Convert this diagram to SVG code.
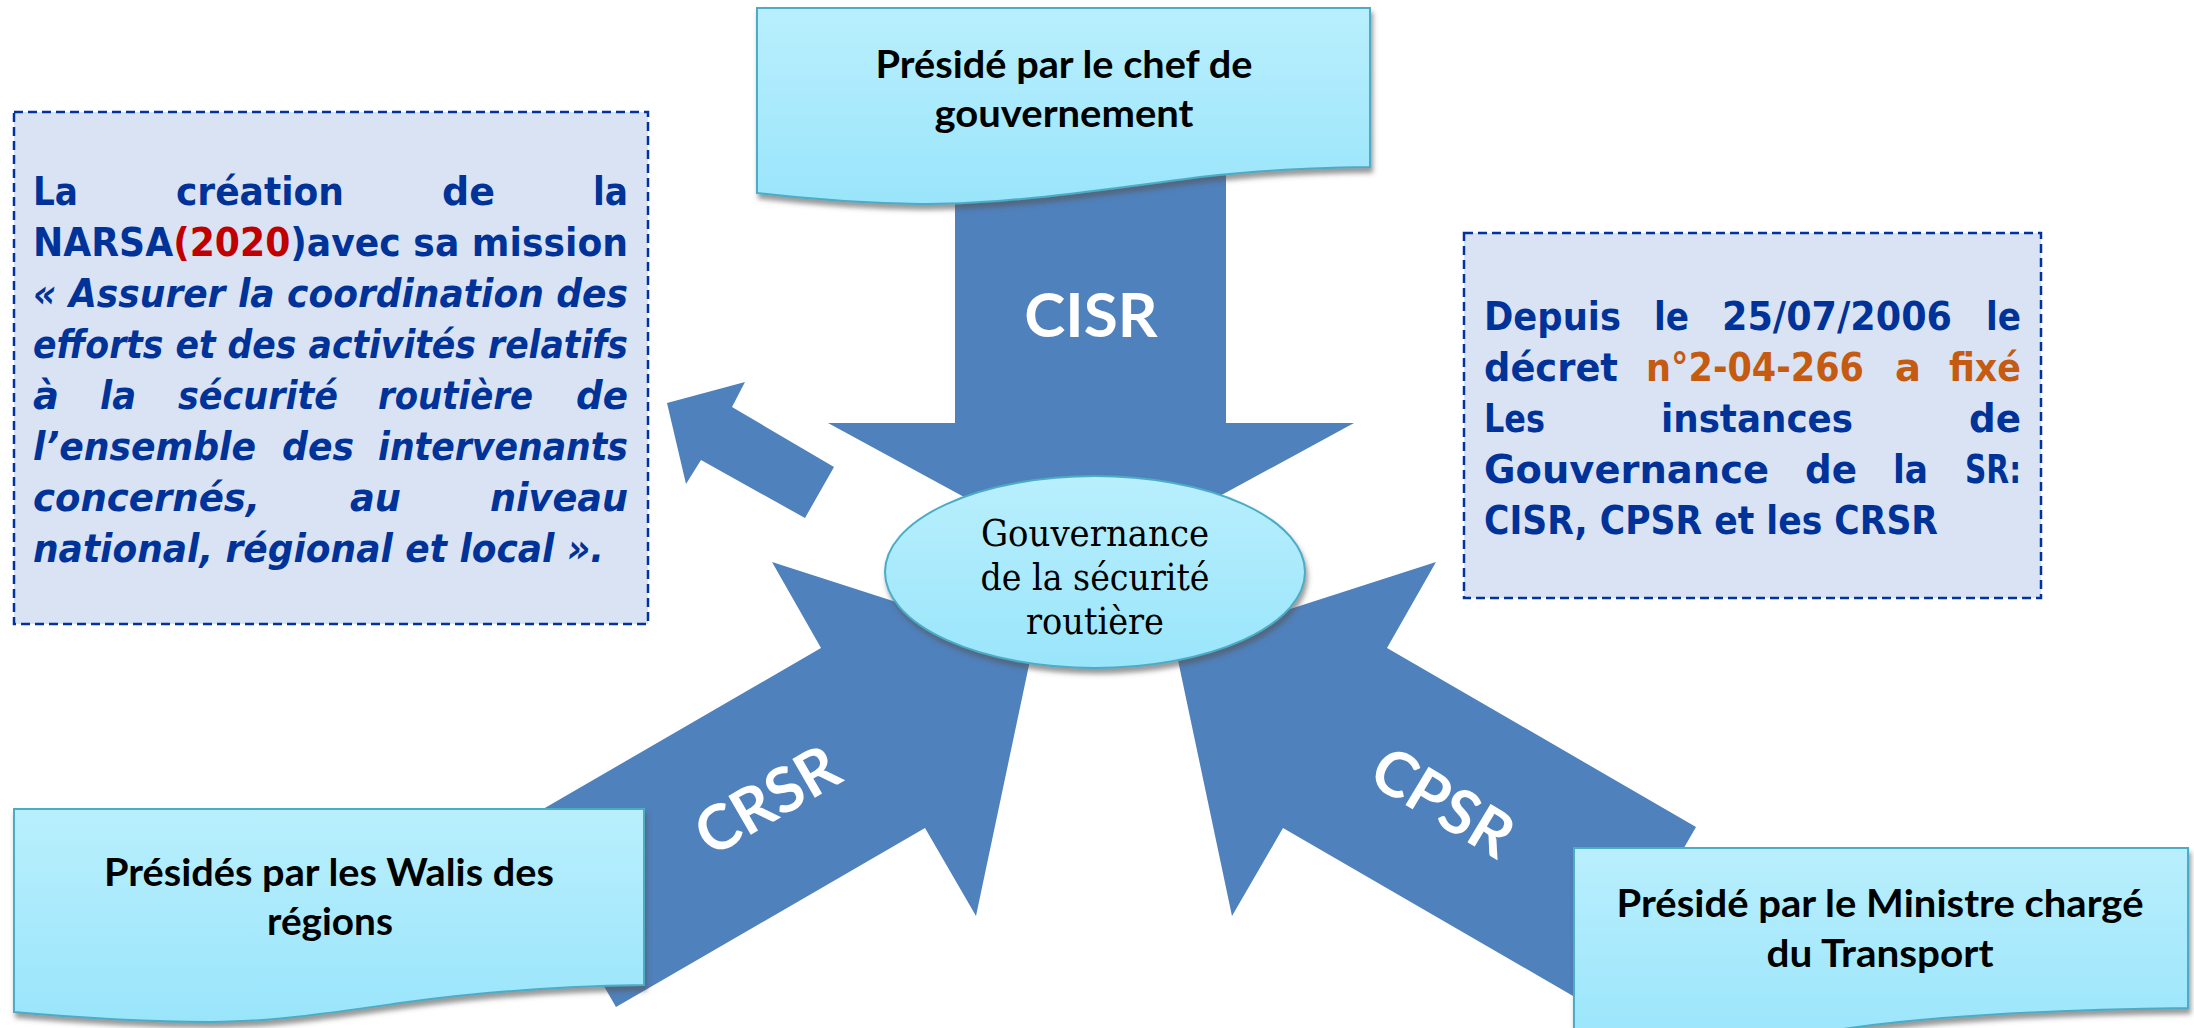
<svg xmlns="http://www.w3.org/2000/svg" width="2194" height="1028" viewBox="0 0 2194 1028">
<defs>
<linearGradient id="cyan" x1="0" y1="0" x2="0" y2="1">
<stop offset="0" stop-color="#b9effd"/>
<stop offset="1" stop-color="#9ae5fb"/>
</linearGradient>
<filter id="sh" x="-10%" y="-10%" width="120%" height="130%">
<feDropShadow dx="2" dy="5" stdDeviation="2.5" flood-color="#555" flood-opacity="0.6"/>
</filter>
<style>
.arrow{fill:#4f81bd}
.doc{fill:url(#cyan);stroke:#4bacc6;stroke-width:2}
.dash{fill:#dae3f3;stroke:#0033a0;stroke-width:2.5;stroke-dasharray:9 5}
.lbl{font-family:Lato,"Open Sans",sans-serif;font-weight:bold;font-size:38px;fill:#000;text-anchor:middle}
.big{font-family:Lato,"Open Sans",sans-serif;font-weight:bold;font-size:62px;fill:#fff;text-anchor:middle}
.ser{font-family:"DejaVu Serif","Liberation Serif",serif;font-size:37px;fill:#000;text-anchor:middle}
.bt{font-family:"DejaVu Sans",sans-serif;font-weight:bold;font-size:39px;fill:#003399}
.it{font-style:italic}
.or{fill:#c55a11}
.rd{fill:#c00000}
</style>
</defs>

<g id="connectors">
<polygon class="arrow" points="955,150 1226,150 1226,423 1354,423 1091,566 828,423 955,423"/>
<polygon class="arrow" points="512,827 821,648 772,562 1033,646 976,916 925,828 616,1007"/>
<polygon class="arrow" points="1696,827 1387,648 1436,562 1175,646 1232,916 1283,828 1592,1007"/>
<polygon class="arrow" points="667,403 745,382 732,407 834,467 805,518 701,460 686,484"/>
<text class="big" x="1091" y="337">CISR</text>
<text class="big" transform="translate(767,800) rotate(-30)" y="22">CRSR</text>
<text class="big" transform="translate(1443,802) rotate(31)" y="22">CPSR</text>
</g>

<g id="node-top">
<path class="doc" filter="url(#sh)" d="M757,8 H1370 V167 C1300,168 1250,171 1200,177 C1100,190 1000,205 920,204 C860,203 800,198 757,193 Z"/>
<text class="lbl" x="1064" y="78" textLength="377" lengthAdjust="spacingAndGlyphs">Présidé par le chef de</text>
<text class="lbl" x="1064" y="127" textLength="259" lengthAdjust="spacingAndGlyphs">gouvernement</text>
</g>

<g id="node-center">
<ellipse cx="1095" cy="572" rx="210" ry="96" fill="url(#cyan)" stroke="#4bacc6" stroke-width="2" filter="url(#sh)"/>
<text class="ser" x="1095" y="546" textLength="228" lengthAdjust="spacingAndGlyphs">Gouvernance</text>
<text class="ser" x="1095" y="590" textLength="229" lengthAdjust="spacingAndGlyphs">de la sécurité</text>
<text class="ser" x="1095" y="634" textLength="138" lengthAdjust="spacingAndGlyphs">routière</text>
</g>

<g id="node-bottom-left">
<path class="doc" filter="url(#sh)" d="M14,809 H644 V985 C560,986 480,992 400,1003 C330,1013 270,1022 210,1022 C140,1022 70,1017 14,1012 Z"/>
<text class="lbl" x="329" y="886" textLength="450" lengthAdjust="spacingAndGlyphs">Présidés par les Walis des</text>
<text class="lbl" x="330" y="935" textLength="126" lengthAdjust="spacingAndGlyphs">régions</text>
</g>

<g id="node-bottom-right">
<path class="doc" filter="url(#sh)" d="M1574,848 H2188 V1008 C2100,1009 2000,1013 1920,1020 C1850,1026 1800,1036 1750,1046 L1574,1046 Z"/>
<text class="lbl" x="1880" y="917" textLength="527" lengthAdjust="spacingAndGlyphs">Présidé par le Ministre chargé</text>
<text class="lbl" x="1880" y="967" textLength="227" lengthAdjust="spacingAndGlyphs">du Transport</text>
</g>

<g id="node-narsa">
<rect class="dash" x="14" y="112" width="634" height="512"/>
<g class="bt">
<text x="33" y="205" textLength="45" lengthAdjust="spacingAndGlyphs">La</text>
<text x="176" y="205" textLength="168" lengthAdjust="spacingAndGlyphs">création</text>
<text x="442" y="205" textLength="53" lengthAdjust="spacingAndGlyphs">de</text>
<text x="593" y="205" textLength="35" lengthAdjust="spacingAndGlyphs">la</text>

<text x="33" y="256" textLength="595" lengthAdjust="spacingAndGlyphs">NARSA<tspan class="rd">(2020</tspan>)avec sa mission</text>

<text class="it" x="33" y="307" textLength="595" lengthAdjust="spacingAndGlyphs">« Assurer la coordination des</text>

<text class="it" x="33" y="358" textLength="595" lengthAdjust="spacingAndGlyphs">efforts et des activités relatifs</text>

<text class="it" x="33" y="409" textLength="26" lengthAdjust="spacingAndGlyphs">à</text>
<text class="it" x="100" y="409" textLength="36" lengthAdjust="spacingAndGlyphs">la</text>
<text class="it" x="178" y="409" textLength="160" lengthAdjust="spacingAndGlyphs">sécurité</text>
<text class="it" x="378" y="409" textLength="155" lengthAdjust="spacingAndGlyphs">routière</text>
<text class="it" x="576" y="409" textLength="52" lengthAdjust="spacingAndGlyphs">de</text>

<text class="it" x="33" y="460" textLength="223" lengthAdjust="spacingAndGlyphs">l’ensemble</text>
<text class="it" x="282" y="460" textLength="72" lengthAdjust="spacingAndGlyphs">des</text>
<text class="it" x="378" y="460" textLength="250" lengthAdjust="spacingAndGlyphs">intervenants</text>

<text class="it" x="33" y="511" textLength="227" lengthAdjust="spacingAndGlyphs">concernés,</text>
<text class="it" x="350" y="511" textLength="51" lengthAdjust="spacingAndGlyphs">au</text>
<text class="it" x="490" y="511" textLength="138" lengthAdjust="spacingAndGlyphs">niveau</text>

<text class="it" x="33" y="562" textLength="571" lengthAdjust="spacingAndGlyphs">national, régional et local ».</text>
</g>
</g>

<g id="node-decret">
<rect class="dash" x="1464" y="233" width="577" height="365"/>
<g class="bt">
<text x="1484" y="330" textLength="137" lengthAdjust="spacingAndGlyphs">Depuis</text>
<text x="1654" y="330" textLength="35" lengthAdjust="spacingAndGlyphs">le</text>
<text x="1722" y="330" textLength="230" lengthAdjust="spacingAndGlyphs">25/07/2006</text>
<text x="1986" y="330" textLength="35" lengthAdjust="spacingAndGlyphs">le</text>

<text x="1484" y="381" textLength="134" lengthAdjust="spacingAndGlyphs">décret</text>
<text class="or" x="1646" y="381" textLength="218" lengthAdjust="spacingAndGlyphs">n°2-04-266</text>
<text class="or" x="1895" y="381" textLength="26" lengthAdjust="spacingAndGlyphs">a</text>
<text class="or" x="1949" y="381" textLength="72" lengthAdjust="spacingAndGlyphs">fixé</text>

<text x="1484" y="432" textLength="61" lengthAdjust="spacingAndGlyphs">Les</text>
<text x="1661" y="432" textLength="192" lengthAdjust="spacingAndGlyphs">instances</text>
<text x="1969" y="432" textLength="52" lengthAdjust="spacingAndGlyphs">de</text>

<text x="1484" y="483" textLength="285" lengthAdjust="spacingAndGlyphs">Gouvernance</text>
<text x="1805" y="483" textLength="52" lengthAdjust="spacingAndGlyphs">de</text>
<text x="1893" y="483" textLength="35" lengthAdjust="spacingAndGlyphs">la</text>
<text x="1965" y="483" textLength="56" lengthAdjust="spacingAndGlyphs">SR:</text>

<text x="1484" y="534" textLength="454" lengthAdjust="spacingAndGlyphs">CISR, CPSR et les CRSR</text>
</g>
</g>
</svg>
